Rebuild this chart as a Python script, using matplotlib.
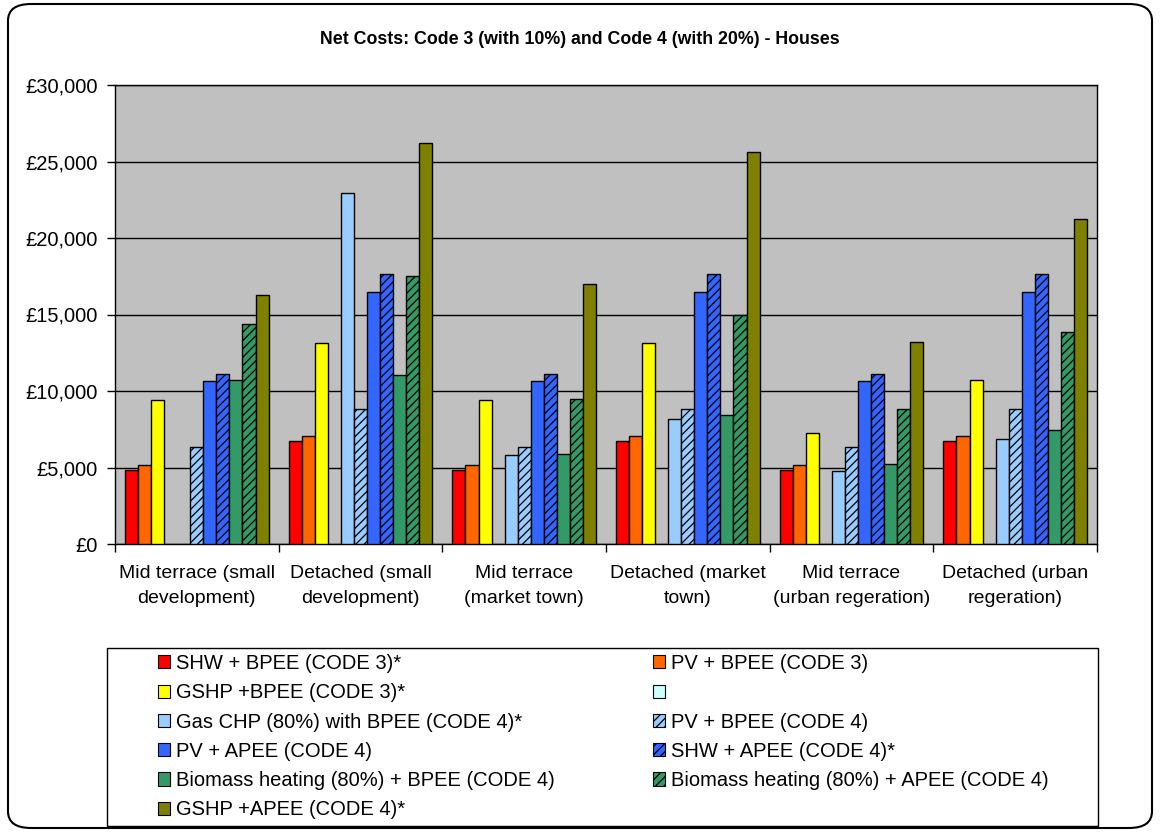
import numpy as np
import matplotlib
matplotlib.use("Agg")
import matplotlib.pyplot as plt
from matplotlib.patches import Patch, FancyBboxPatch, Rectangle

plt.rcParams['font.family'] = ['Liberation Sans', 'DejaVu Sans']
plt.rcParams['hatch.linewidth'] = 0.9

title = "Net Costs: Code 3 (with 10%) and Code 4 (with 20%) - Houses"
categories = ["Mid terrace (small\ndevelopment)", "Detached (small\ndevelopment)",
              "Mid terrace\n(market town)", "Detached (market\ntown)",
              "Mid terrace\n(urban regeration)", "Detached (urban\nregeration)"]

series_names = ["SHW + BPEE (CODE 3)*", "PV + BPEE (CODE 3)", "GSHP +BPEE (CODE 3)*", "",
                "Gas CHP (80%) with BPEE (CODE 4)*", "PV + BPEE (CODE 4)",
                "PV + APEE (CODE 4)", "SHW + APEE (CODE 4)*",
                "Biomass heating (80%) + BPEE (CODE 4)", "Biomass heating (80%) + APEE (CODE 4)",
                "GSHP +APEE (CODE 4)*"]
series_colors = ["#FF0000", "#FF6600", "#FFFF00", "#CCFFFF", "#99CCFF", "#99CCFF",
                 "#3366FF", "#3366FF", "#339966", "#339966", "#808000"]
series_hatch = [None, None, None, None, None, "////", None, "////", None, "////", None]

shw_bpee_c3 = [4840, 6710, 4840, 6710, 4840, 6710]
pv_bpee_c3 = [5160, 7040, 5160, 7040, 5160, 7040]
gshp_bpee_c3 = [9400, 13140, 9400, 13140, 7280, 10700]
blank_series = [np.nan] * 6
gaschp_bpee_c4 = [np.nan, 22920, 5820, 8170, 4750, 6880]
pv_bpee_c4 = [6320, 8820, 6320, 8820, 6320, 8820]
pv_apee_c4 = [10630, 16470, 10630, 16470, 10630, 16470]
shw_apee_c4 = [11090, 17630, 11090, 17630, 11090, 17630]
biomass_bpee_c4 = [10700, 11020, 5880, 8410, 5250, 7430]
biomass_apee_c4 = [14380, 17540, 9480, 14970, 8820, 13860]
gshp_apee_c4 = [16300, 26210, 16970, 25620, 13200, 21260]

all_series = [shw_bpee_c3, pv_bpee_c3, gshp_bpee_c3, blank_series, gaschp_bpee_c4,
              pv_bpee_c4, pv_apee_c4, shw_apee_c4, biomass_bpee_c4, biomass_apee_c4,
              gshp_apee_c4]

yticks = [0, 5000, 10000, 15000, 20000, 25000, 30000]
ytick_labels = ["£0", "£5,000", "£10,000", "£15,000", "£20,000", "£25,000", "£30,000"]

fig = plt.figure(figsize=(11.6, 8.32), dpi=100)
ax = fig.add_axes([115/1160, 1-544/832, (1097-115)/1160, (544-85)/832])
ax.set_facecolor("#C0C0C0")

x = np.arange(len(categories))
w = 0.0797
n = len(all_series)
handles = []
for k, (vals, name, col, h) in enumerate(zip(all_series, series_names, series_colors, series_hatch)):
    off = (k - (n - 1) / 2) * w
    v = np.array(vals, dtype=float)
    mask = ~np.isnan(v)
    if mask.any():
        ax.bar(x[mask] + off, v[mask], width=w, color=col, edgecolor="black",
               linewidth=1.0, hatch=h, zorder=3)
    handles.append(Patch(facecolor=col, edgecolor="black", linewidth=0.8, hatch=h, label=name))

ax.set_ylim(0, 30000)
ax.set_xlim(-0.5, len(categories) - 0.5)
ax.set_yticks(yticks)
ax.set_yticklabels(ytick_labels, fontsize=14.5)
ax.yaxis.grid(True, color="black", linewidth=1.0, zorder=1)
ax.set_axisbelow(True)
ax.set_xticks(x)
ax.set_xticklabels(categories, fontsize=14, linespacing=1.6)
ax.set_xticks(np.arange(-0.5, len(categories)), minor=True)
ax.tick_params(axis="x", which="major", length=0, pad=15)
ax.tick_params(axis="x", which="minor", length=6, width=1, direction="out")
ax.tick_params(axis="y", length=5.5, width=1, direction="out", pad=7)
for s in ax.spines.values():
    s.set_color("black")
    s.set_linewidth(1.0)

fig.text(0.5, 1-40/832, title, ha="center", va="center", fontsize=12.8, fontweight="bold")

# legend frame
fig.patches.append(Rectangle((107/1160, 1-826/832), (1098-107)/1160, (826-648)/832,
                             transform=fig.transFigure, facecolor="white",
                             edgecolor="black", linewidth=1.0, zorder=0))

col1 = [0, 2, 4, 6, 8, 10]
col2 = [1, 3, 5, 7, 9]
leg_kw = dict(loc="upper left", fontsize=14.5, frameon=False, handlelength=0.62,
              handleheight=0.62, handletextpad=0.25, labelspacing=0.51,
              borderaxespad=0, borderpad=0)
fig.legend([handles[i] for i in col1], [series_names[i] for i in col1],
           bbox_to_anchor=(158/1160, 1-654/832), **leg_kw)
fig.legend([handles[i] for i in col2], [series_names[i] for i in col2],
           bbox_to_anchor=(653/1160, 1-654/832), **leg_kw)

border = FancyBboxPatch((8/1160, 4/832), (1152-8)/1160, (828-4)/832,
                        boxstyle="round,pad=0,rounding_size=0.02",
                        transform=fig.transFigure, facecolor="none",
                        edgecolor="black", linewidth=1.5)
fig.patches.append(border)

fig.savefig("out.png", dpi=100)
